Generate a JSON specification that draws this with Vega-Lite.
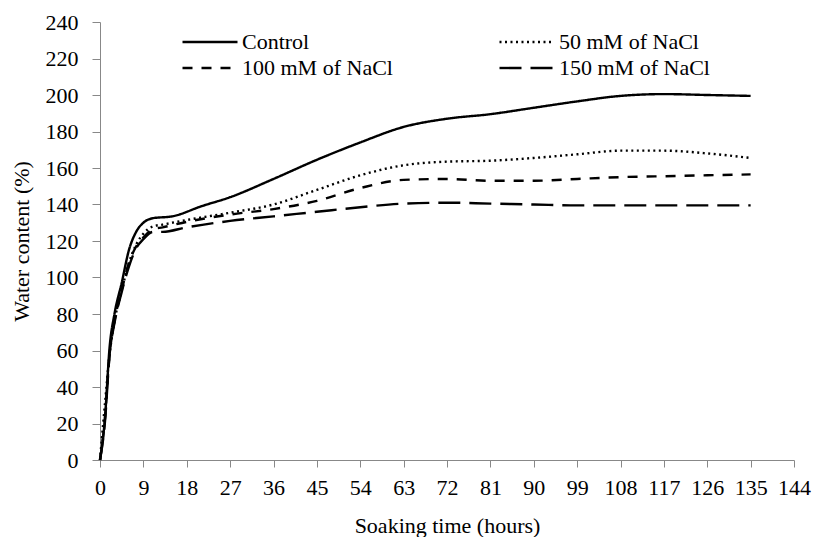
{
  "$schema": "https://vega.github.io/schema/vega-lite/v6.json",
  "autosize": {"type": "none"},
  "width": 694,
  "height": 438,
  "padding": {"left": 100, "top": 22, "right": 19, "bottom": 77},
  "background": "white",
  "config": {"view": {"stroke": null}, "font": "Liberation Serif",
    "style": {"guide-label": {"font": "Liberation Serif"}, "guide-title": {"font": "Liberation Serif"}},
    "axis": {"labelFont": "Liberation Serif", "titleFont": "Liberation Serif"},
    "legend": {"labelFont": "Liberation Serif", "titleFont": "Liberation Serif"}},
  "data": {"values": [
    {"t":0,"v":0,"s":"Control"},{"t":1,"v":22,"s":"Control"},{"t":2,"v":62,"s":"Control"},{"t":3,"v":80,"s":"Control"},{"t":4.5,"v":97,"s":"Control"},{"t":6,"v":115,"s":"Control"},{"t":7.5,"v":125,"s":"Control"},{"t":9,"v":130,"s":"Control"},{"t":11,"v":132.5,"s":"Control"},{"t":15,"v":133.5,"s":"Control"},{"t":21,"v":139,"s":"Control"},{"t":27,"v":144,"s":"Control"},{"t":36,"v":154,"s":"Control"},{"t":45,"v":164.5,"s":"Control"},{"t":54,"v":174,"s":"Control"},{"t":63,"v":182.5,"s":"Control"},{"t":72,"v":187,"s":"Control"},{"t":81,"v":189.5,"s":"Control"},{"t":90,"v":193,"s":"Control"},{"t":99,"v":196.5,"s":"Control"},{"t":108,"v":199.5,"s":"Control"},{"t":117,"v":200.5,"s":"Control"},{"t":126,"v":200,"s":"Control"},{"t":135,"v":199.5,"s":"Control"},
    {"t":0,"v":0,"s":"50 mM of NaCl"},{"t":1,"v":30,"s":"50 mM of NaCl"},{"t":2,"v":58,"s":"50 mM of NaCl"},{"t":3,"v":76,"s":"50 mM of NaCl"},{"t":4.5,"v":93,"s":"50 mM of NaCl"},{"t":6,"v":108,"s":"50 mM of NaCl"},{"t":7.5,"v":118,"s":"50 mM of NaCl"},{"t":9,"v":124,"s":"50 mM of NaCl"},{"t":11,"v":128,"s":"50 mM of NaCl"},{"t":13,"v":129,"s":"50 mM of NaCl"},{"t":18,"v":131.5,"s":"50 mM of NaCl"},{"t":27,"v":135.5,"s":"50 mM of NaCl"},{"t":36,"v":140,"s":"50 mM of NaCl"},{"t":45,"v":148,"s":"50 mM of NaCl"},{"t":54,"v":156,"s":"50 mM of NaCl"},{"t":63,"v":161.5,"s":"50 mM of NaCl"},{"t":72,"v":163.5,"s":"50 mM of NaCl"},{"t":81,"v":164,"s":"50 mM of NaCl"},{"t":90,"v":165.5,"s":"50 mM of NaCl"},{"t":99,"v":167.5,"s":"50 mM of NaCl"},{"t":108,"v":169.5,"s":"50 mM of NaCl"},{"t":117,"v":169.5,"s":"50 mM of NaCl"},{"t":126,"v":168,"s":"50 mM of NaCl"},{"t":135,"v":165.5,"s":"50 mM of NaCl"},
    {"t":0,"v":0,"s":"100 mM of NaCl"},{"t":1,"v":22,"s":"100 mM of NaCl"},{"t":2,"v":58,"s":"100 mM of NaCl"},{"t":3,"v":76,"s":"100 mM of NaCl"},{"t":4.5,"v":93,"s":"100 mM of NaCl"},{"t":6,"v":108,"s":"100 mM of NaCl"},{"t":7.5,"v":117,"s":"100 mM of NaCl"},{"t":9,"v":122,"s":"100 mM of NaCl"},{"t":11,"v":126.5,"s":"100 mM of NaCl"},{"t":13,"v":127.5,"s":"100 mM of NaCl"},{"t":18,"v":130.5,"s":"100 mM of NaCl"},{"t":27,"v":134.5,"s":"100 mM of NaCl"},{"t":36,"v":137.5,"s":"100 mM of NaCl"},{"t":45,"v":142,"s":"100 mM of NaCl"},{"t":54,"v":149,"s":"100 mM of NaCl"},{"t":63,"v":153.5,"s":"100 mM of NaCl"},{"t":72,"v":154,"s":"100 mM of NaCl"},{"t":81,"v":153,"s":"100 mM of NaCl"},{"t":90,"v":153,"s":"100 mM of NaCl"},{"t":99,"v":154,"s":"100 mM of NaCl"},{"t":108,"v":155,"s":"100 mM of NaCl"},{"t":117,"v":155.5,"s":"100 mM of NaCl"},{"t":126,"v":156,"s":"100 mM of NaCl"},{"t":135,"v":156.5,"s":"100 mM of NaCl"},
    {"t":0,"v":0,"s":"150 mM of NaCl"},{"t":1,"v":20,"s":"150 mM of NaCl"},{"t":2,"v":58,"s":"150 mM of NaCl"},{"t":3,"v":75,"s":"150 mM of NaCl"},{"t":4.5,"v":92,"s":"150 mM of NaCl"},{"t":6,"v":106,"s":"150 mM of NaCl"},{"t":7.5,"v":116,"s":"150 mM of NaCl"},{"t":9,"v":121,"s":"150 mM of NaCl"},{"t":11,"v":125,"s":"150 mM of NaCl"},{"t":13,"v":125,"s":"150 mM of NaCl"},{"t":18,"v":127.5,"s":"150 mM of NaCl"},{"t":27,"v":131,"s":"150 mM of NaCl"},{"t":36,"v":133.5,"s":"150 mM of NaCl"},{"t":45,"v":136,"s":"150 mM of NaCl"},{"t":54,"v":138.5,"s":"150 mM of NaCl"},{"t":63,"v":140.5,"s":"150 mM of NaCl"},{"t":72,"v":141,"s":"150 mM of NaCl"},{"t":81,"v":140.5,"s":"150 mM of NaCl"},{"t":90,"v":140,"s":"150 mM of NaCl"},{"t":99,"v":139.5,"s":"150 mM of NaCl"},{"t":108,"v":139.5,"s":"150 mM of NaCl"},{"t":117,"v":139.5,"s":"150 mM of NaCl"},{"t":126,"v":139.5,"s":"150 mM of NaCl"},{"t":135,"v":139.5,"s":"150 mM of NaCl"}
  ]},
  "mark": {"type": "line", "interpolate": "monotone", "color": "black", "strokeWidth": 2.4},
  "encoding": {
    "x": {"field": "t", "type": "quantitative", "scale": {"domain": [0, 144], "nice": false},
      "axis": {"values": [0,9,18,27,36,45,54,63,72,81,90,99,108,117,126,135,144], "title": "Soaking time (hours)", "grid": false,
        "domainColor": "#888888", "tickColor": "#888888", "tickSize": 7, "labelFont": "Liberation Serif", "labelFontSize": 22, "labelColor": "black", "labelPadding": 10,
        "titleFont": "Liberation Serif", "titleFontSize": 22, "titleFontWeight": "normal", "titleColor": "black", "titlePadding": 17, "labelFlush": false}},
    "y": {"field": "v", "type": "quantitative", "scale": {"domain": [0, 240], "nice": false},
      "axis": {"values": [0,20,40,60,80,100,120,140,160,180,200,220,240], "title": "Water content  (%)", "grid": false,
        "domainColor": "#888888", "tickColor": "#888888", "tickSize": 8, "labelFont": "Liberation Serif", "labelFontSize": 22, "labelColor": "black", "labelPadding": 14,
        "titleFont": "Liberation Serif", "titleFontSize": 22, "titleFontWeight": "normal", "titleColor": "black", "titlePadding": 12}},
    "strokeDash": {"field": "s", "type": "nominal",
      "scale": {"domain": ["Control", "100 mM of NaCl", "50 mM of NaCl", "150 mM of NaCl"], "range": [[1, 0], [10, 9], [2, 3.5], [22, 9]]},
      "legend": {"title": null, "orient": "none", "legendX": 81, "legendY": 7, "columns": 2, "columnPadding": 105, "rowPadding": 0, "clipHeight": 26,
        "symbolType": "stroke", "symbolSize": 3025, "symbolStrokeWidth": 2.4, "symbolStrokeColor": "black",
        "labelFont": "Liberation Serif", "labelFontSize": 22, "labelColor": "black", "labelOffset": 3, "labelLimit": 300}}
  }
}
